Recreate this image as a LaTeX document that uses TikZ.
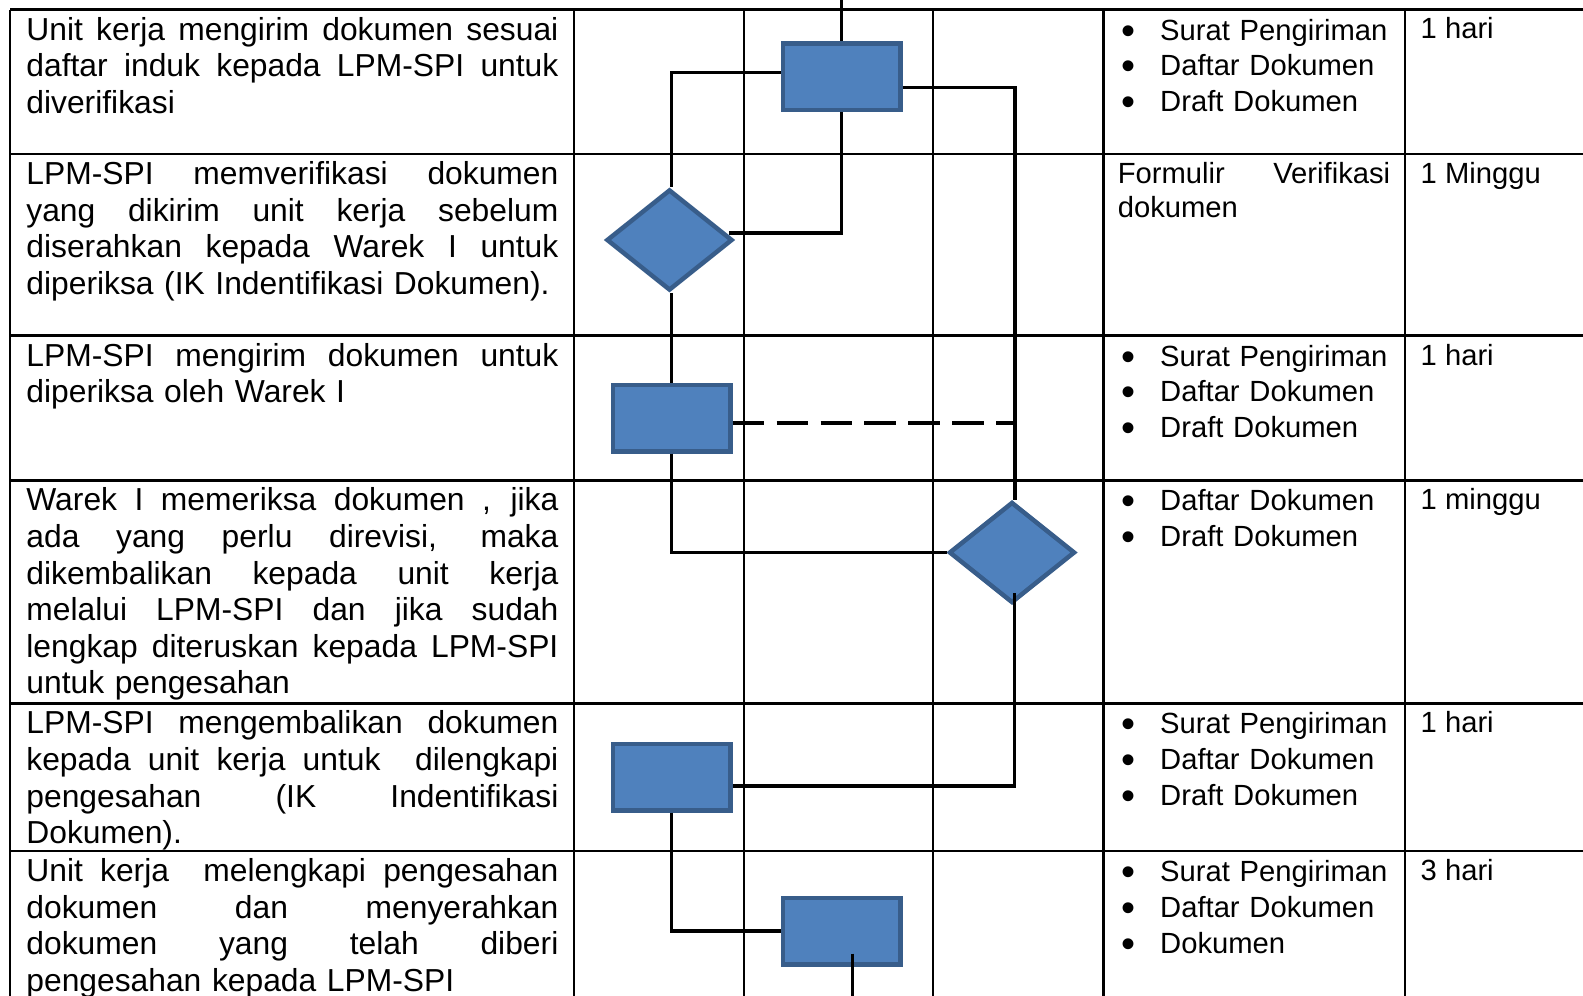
\documentclass[tikz,border=0pt]{standalone}
\usepackage{fontspec}
\setmainfont{Liberation Sans}
\usetikzlibrary{shapes.geometric,calc}

\definecolor{shapefill}{HTML}{4F81BD}
\definecolor{shapeline}{HTML}{385D8A}

% one justified line of a cell: spaces stretch to the full width
\newcommand{\jline}[2][532pt]{{\spaceskip=0pt\xspaceskip=0pt\makebox[#1][s]{#2}}}
% bullet with its hanging indent
\newcommand{\bul}{\makebox[38.3pt][l]{\smash{\raisebox{-4pt}{\fontsize{40pt}{40pt}\selectfont •}}}}

\begin{document}
\begin{tikzpicture}[x=1pt,y=-1pt,
  grid/.style={line width=2.4pt},
  procbox/.style={rectangle,draw=shapeline,fill=shapefill,line width=4.5pt,
    minimum width=117.5pt,minimum height=66.5pt,inner sep=0pt},
  decide/.style={diamond,draw=shapeline,fill=shapefill,line width=4.5pt,
    minimum width=126pt,minimum height=101pt,inner sep=0pt},
  flow/.style={line width=3.5pt},
  desc/.style={anchor=base west,inner sep=0pt,text width=532pt,align=left,
    font=\fontsize{31.8pt}{36.6pt}\selectfont},
  media/.style={anchor=base west,inner sep=0pt,text width=280pt,align=left,
    font=\fontsize{29.2pt}{35.8pt}\selectfont},
  dur/.style={anchor=base west,inner sep=0pt,
    font=\fontsize{29.2pt}{35.8pt}\selectfont}]

\useasboundingbox (0,0) rectangle (1583,996);
\fill[white] (0,0) rectangle (1583,996);
\clip (0,0) rectangle (1583,996);

% table rules
\foreach \r in {9.5,154,335.5,480.3,703.3,851}
  \draw[grid] (10,\r) -- (1600,\r);
\foreach \c in {10,574,744,933,1103.5,1405}
  \draw[grid] (\c,9.5) -- (\c,1010);

% activity descriptions
\node[desc] (t1) at (26.2,40) {\jline{Unit kerja mengirim dokumen sesuai}\\
  \jline{daftar induk kepada LPM-SPI untuk}\\ diverifikasi};
\node[desc] (t2) at (26.2,184.5) {\jline{LPM-SPI memverifikasi dokumen}\\
  \jline{yang dikirim unit kerja sebelum}\\
  \jline{diserahkan kepada Warek I untuk}\\
  diperiksa (IK Indentifikasi Dokumen).};
\node[desc] (t3) at (26.2,366) {\jline{LPM-SPI mengirim dokumen untuk}\\
  diperiksa oleh Warek I};
\node[desc] (t4) at (26.2,510.8) {\jline{Warek I memeriksa dokumen , jika}\\
  \jline{ada yang perlu direvisi, maka}\\
  \jline{dikembalikan kepada unit kerja}\\
  \jline{melalui LPM-SPI dan jika sudah}\\
  \jline{lengkap diteruskan kepada LPM-SPI}\\
  untuk pengesahan};
\node[desc] (t5) at (26.2,733.8) {\jline{LPM-SPI mengembalikan dokumen}\\
  \jline{kepada unit kerja untuk\ \ dilengkapi}\\
  \jline{pengesahan (IK Indentifikasi}\\
  Dokumen).};
\node[desc] (t6) at (26.2,881.5) {\jline{Unit kerja\ \ melengkapi pengesahan}\\
  \jline{dokumen dan menyerahkan}\\
  \jline{dokumen yang telah diberi}\\
  pengesahan kepada LPM-SPI};

% documents
\node[media] (m1) at (1121.7,40) {\bul Surat Pengiriman\\ \bul Daftar Dokumen\\ \bul Draft Dokumen};
\node[media,text width=272.4pt,font=\fontsize{29.2pt}{33.5pt}\selectfont] (m2) at (1117.6,183.5)
  {\jline[272.4pt]{Formulir Verifikasi}\\ dokumen};
\node[media] (m3) at (1121.7,366) {\bul Surat Pengiriman\\ \bul Daftar Dokumen\\ \bul Draft Dokumen};
\node[media] (m4) at (1121.7,510.8) {\bul Daftar Dokumen\\ \bul Draft Dokumen};
\node[media] (m5) at (1121.7,733.8) {\bul Surat Pengiriman\\ \bul Daftar Dokumen\\ \bul Draft Dokumen};
\node[media] (m6) at (1121.7,881.5) {\bul Surat Pengiriman\\ \bul Daftar Dokumen\\ \bul Dokumen};

% durations
\node[dur] (w1) at (1420.5,38) {1 hari};
\node[dur] (w2) at (1420.5,183.5) {1 Minggu};
\node[dur] (w3) at (1420.5,365) {1 hari};
\node[dur] (w4) at (1420.5,509.8) {1 minggu};
\node[dur] (w5) at (1420.5,732.3) {1 hari};
\node[dur] (w6) at (1420.5,880) {3 hari};

% flow shapes
\node[procbox] (R1) at (841.7,76.7) {};
\node[decide]  (D1) at (669.5,240) {};
\node[procbox] (R2) at (671.7,418.2) {};
\node[decide]  (D2) at (1012,552.5) {};
\node[procbox] (R3) at (671.7,777) {};
\node[procbox] (R4) at (841.7,931) {};

% connectors
\coordinate (in) at (841.7,-5);
\coordinate (r1w) at ($(R1.west)+(0,-4.4)$);
\coordinate (r1e) at ($(R1.east)+(0,11)$);
\coordinate (d1n) at (D1.north -| R2.north);
\coordinate (d1s) at (D1.south -| R2.north);
\coordinate (d1e) at ($(D1.east)+(-6,-7)$);
\coordinate (d2n) at ($(D2.north)+(3,0)$);
\coordinate (r2e) at ($(R2.east)+(0,5)$);
\coordinate (r3e) at ($(R3.east)+(0,9)$);
\coordinate (d2s) at ($(D2.south)+(2.5,-12)$);
\coordinate (r4s) at ($(R4.south)+(11,-13)$);
\coordinate (out) at ($(r4s)+(0,60)$);

\draw[flow] (in) -- (R1.north);
\draw[flow] (r1w) -| (d1n);
\draw[flow] (R1.south) |- (d1e);
\draw[flow] (r1e) -| (d2n);
\draw[flow] (d1s) -- (R2.north);
\draw[flow] (R2.south) |- (D2.west);
\draw[flow,dash pattern=on 31.5pt off 12.4pt] (r2e) -- (r2e -| d2n);
\draw[flow] (d2s) |- (r3e);
\draw[flow] (R3.south) |- (R4.west);
\draw[flow] (r4s) -- (out);
\end{tikzpicture}
\end{document}
